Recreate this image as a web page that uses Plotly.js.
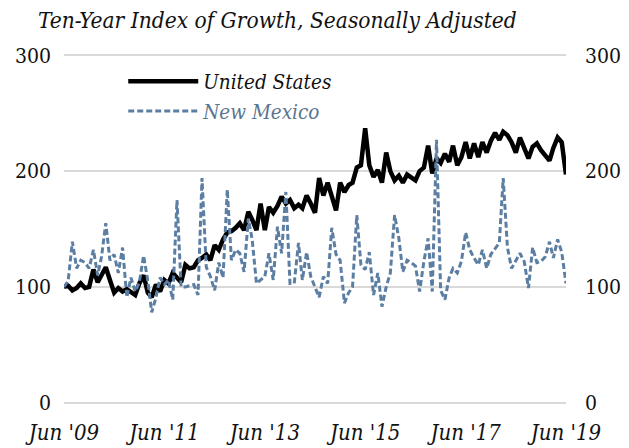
<!DOCTYPE html>
<html>
<head>
<meta charset="utf-8">
<script src="https://cdn.plot.ly/plotly-3.0.1.min.js"></script>
<style>html,body{margin:0;padding:0;background:#fff;}#chart{width:629px;height:448px;}</style>
</head>
<body>
<div id="chart"></div>
<script>
// Monthly index values, Jun 2009 = start
var startMonth = "2009-06";
var usValues = [100,101,97,99,103,99,100,115,104,110,117,106,95,99,96,98,95,93,103,110,
  95,91,102,96,106,103,112,108,104,119,116,117,123,125,128,123,136,132,141,147,
  148,151,155,149,165,158,149,172,149,169,164,170,178,172,175,168,171,168,179,172,
  164,194,179,190,178,166,190,182,188,190,203,205,237,205,195,201,190,216,200,192,
  196,190,197,194,192,200,203,222,198,211,207,215,208,222,205,212,225,211,224,212,
  225,216,226,233,227,234,231,225,216,229,220,211,221,224,218,213,209,220,229,225,197];
var nmValues = [100,105,139,116,123,121,116,132,110,126,155,123,128,112,134,91,108,96,104,127,
  105,78,91,108,102,106,89,175,100,100,101,102,93,194,117,109,97,121,108,184,
  123,132,129,113,159,141,103,106,109,129,106,152,129,182,103,103,138,106,130,109,
  100,91,109,103,151,128,123,86,95,100,162,119,115,130,93,112,83,100,112,162,
  142,113,123,121,118,96,122,142,96,227,97,89,108,116,112,122,147,132,125,119,
  132,116,128,133,138,194,134,116,123,129,122,99,134,121,122,126,139,125,141,130,103];
var seriesNames = ["United States", "New Mexico"];
var tickDates = ["2009-06-01","2011-06-01","2013-06-01","2015-06-01","2017-06-01","2019-06-01"];
var tickLabels = ["Jun '09","Jun '11","Jun '13","Jun '15","Jun '17","Jun '19"];
var yTicks = [0,100,200,300];
var titleText = "Ten-Year Index of Growth, Seasonally Adjusted";

var months = [];
(function(){
  var y = parseInt(startMonth.slice(0,4),10), m = parseInt(startMonth.slice(5,7),10);
  for (var i = 0; i < usValues.length; i++) {
    months.push(y + "-" + (m < 10 ? "0" + m : m) + "-01");
    m++; if (m > 12) { m = 1; y++; }
  }
})();

var blue = "#5b7ea2";
var cond = "DejaVu Serif Condensed";

var traces = [
  {x: months, y: usValues, type: "scatter", mode: "lines", name: seriesNames[0],
   line: {color: "#000000", width: 4.5}, hoverinfo: "skip"},
  {x: months, y: nmValues, type: "scatter", mode: "lines",
   name: '<span style="color:#5b7590">' + seriesNames[1] + '</span>',
   line: {color: blue, width: 3, dash: "6px,3px"}, hoverinfo: "skip"},
  {x: months, y: nmValues, type: "scatter", mode: "lines", yaxis: "y2",
   showlegend: false, hoverinfo: "skip", line: {color: "rgba(0,0,0,0)", width: 0}}
];

var layout = {
  width: 629, height: 448,
  margin: {l: 64, r: 63, t: 53, b: 43},
  paper_bgcolor: "#ffffff", plot_bgcolor: "#ffffff",
  showlegend: true,
  title: {text: titleText, font: {family: cond, size: 22.5, color: "#111", style: "italic"},
          x: 38/629, xanchor: "left", xref: "container", y: 1 - 20/448, yanchor: "middle"},
  xaxis: {type: "date", range: ["2009-06-01", "2019-06-01"], tickvals: tickDates,
          ticktext: tickLabels,
          showgrid: false, zeroline: false, showline: false, ticks: "",
          tickfont: {family: cond, size: 22, color: "#111", style: "italic"}, ticklabelstandoff: 12},
  yaxis: {range: [-2, 302], tickvals: yTicks, showgrid: true, gridcolor: "#d9d9d9", gridwidth: 2,
          zeroline: false, showline: false, ticks: "",
          tickfont: {family: cond, size: 21, color: "#111"}, ticklabelstandoff: 12},
  yaxis2: {range: [-2, 302], tickvals: yTicks, overlaying: "y", side: "right", showgrid: false,
           zeroline: false, showline: false, ticks: "",
           tickfont: {family: cond, size: 21, color: "#111"}, ticklabelstandoff: 18},
  legend: {x: 0.118, y: 0.976, xanchor: "left", yanchor: "top", bgcolor: "rgba(0,0,0,0)",
           font: {family: cond, size: 20.5, color: "#111", style: "italic"},
           itemwidth: 70, tracegroupgap: 0}
};

Plotly.newPlot("chart", traces, layout, {staticPlot: true, displayModeBar: false});
</script>
</body>
</html>
